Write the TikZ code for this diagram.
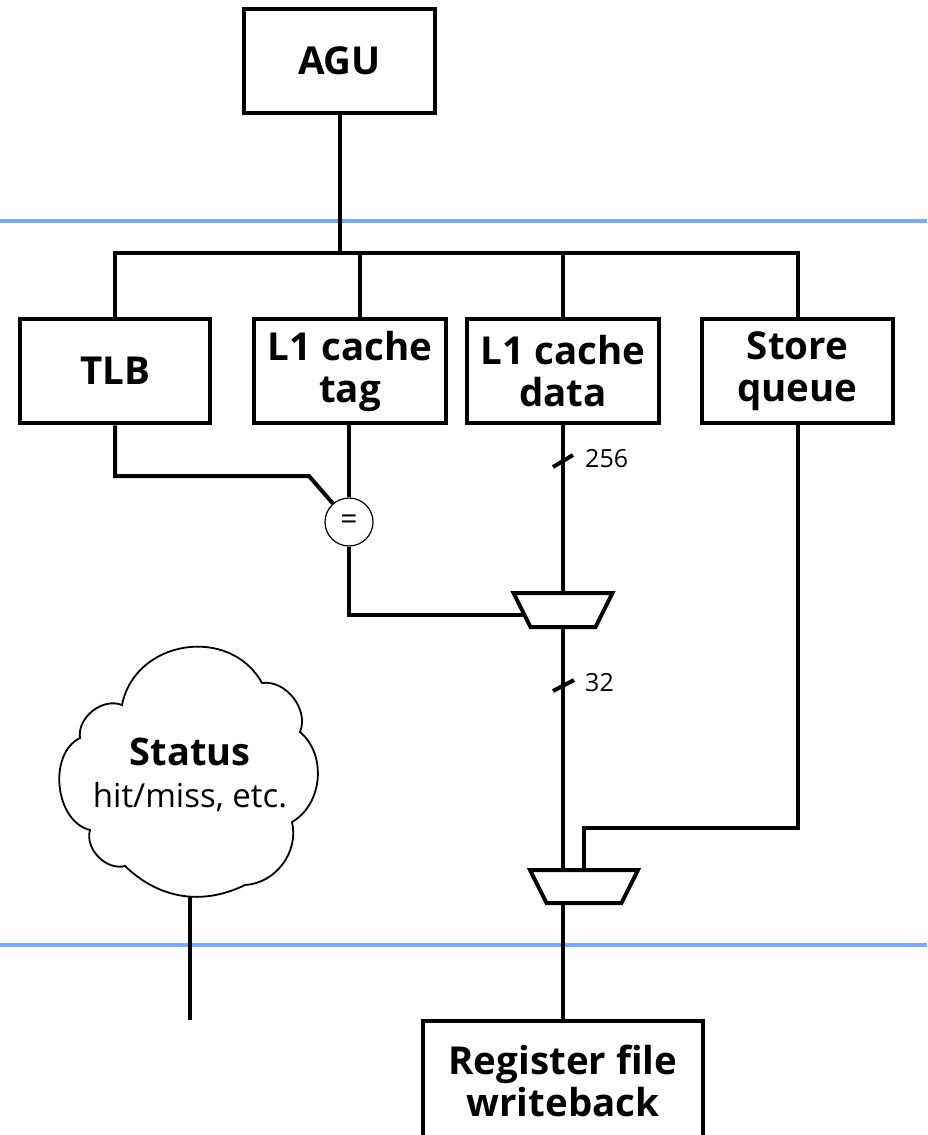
\documentclass[tikz,border=0pt]{standalone}
\usepackage{fontspec}
\setmainfont{Open Sans}
\usetikzlibrary{backgrounds,calc}
\definecolor{sepblue}{RGB}{120,168,255}
\begin{document}
\begin{tikzpicture}[x=1pt,y=-1pt,
  box/.style={draw, line width=4.5pt, fill=white, inner sep=0pt, align=center,
    minimum height=104pt, font=\fontsize{38.5}{42}\selectfont\bfseries},
  wire/.style={line width=4pt},
  sep/.style={draw=sepblue, line width=4pt},
  muxline/.style={draw, fill=white, line width=4pt, line join=miter},
  muxpt/.style={inner sep=0pt, minimum size=0pt},
  cmp/.style={circle, draw, line width=1.2pt, fill=white, minimum size=48pt,
    inner sep=0pt, font=\fontsize{30}{30}\selectfont},
  bus/.style={font=\fontsize{25}{25}\selectfont, anchor=base west, inner sep=0pt},
  cloudline/.style={draw, line width=1.8pt, fill=white}
]
\useasboundingbox (0,0) rectangle (927,1135);

% boxes
\node[box, minimum width=191pt] (agu) at (339.5,61) {AGU};
\node[box, minimum width=190pt] (tlb) at (115,371) {TLB};
\node[box, minimum width=192pt] (tag) at (350,371) {L1 cache\\tag};
\node[box, minimum width=192pt] (dat) at (563,371) {L1 cache\\data};
\node[box, minimum width=191pt] (sq) at (797.5,371) {Store\\queue};
\node[box, minimum width=280pt, minimum height=120pt] (rf) at (563,1081) {Register file\\writeback};

% comparator and muxes
\node[cmp] (eq) at (349,522) {=};
\node[muxpt] (m1) at (563,610) {};
\node[muxpt] (m2) at (584,886.5) {};
\draw[muxline] ($(m1)+(-49.5,-17)$) -- ($(m1)+(49.5,-17)$) -- ($(m1)+(32.5,17)$) -- ($(m1)+(-32.5,17)$) -- cycle;
\draw[muxline] ($(m2)+(-54,-16.5)$) -- ($(m2)+(54,-16.5)$) -- ($(m2)+(37.5,16.5)$) -- ($(m2)+(-37.5,16.5)$) -- cycle;

% width labels
\node[bus] (w256) at (585,467) {256};
\node[bus] (w32) at (585,691) {32};

% cloud
\draw[cloudline] (122,705) to[bend left=70, looseness=1.2] (262,683)
  to[bend left=60] (300,732) to[bend left=55] (292,822)
  to[bend left=50] (245,885) to[bend left=35] (125,866)
  to[bend left=60] (90,830) to[bend left=70] (80,738)
  to[bend left=60] (122,705) -- cycle;
\node[anchor=base, inner sep=0pt, font=\fontsize{38}{38}\selectfont\bfseries] (st) at (190,765) {Status};
\node[anchor=base, inner sep=0pt, font=\fontsize{33}{33}\selectfont] (hm) at (190,807) {hit/miss, etc.};
\coordinate (cb) at (190,893);
\coordinate (ce) at (190,1020);

\begin{pgfonlayer}{background}
  \draw[sep] (0,221) -- (927,221);
  \draw[sep] (0,945) -- (927,945);
  % distribution bus
  \draw[wire] (agu.south) -- (agu.south |- 0,253);
  \draw[wire] (tlb.north) |- (sq.north |- 0,253) -- (sq.north);
  \draw[wire] ($(tag.north)+(10,0)$) -- ++(0,-66);
  \draw[wire] (dat.north) -- ++(0,-66);
  % tag compare
  \draw[wire] (tlb.south) |- (309,476) -- (eq);
  \draw[wire] (eq.north |- tag.south) -- (eq.north);
  \draw[wire] (eq.south) |- ($(m1.center)+(0,5)$);
  % data path
  \draw[wire] (dat.south) -- (m1.center);
  \draw[wire] (m1.center) -- (m1.center |- m2.center);
  \draw[wire] (m1.center |- m2.center) -- (rf.north);
  \draw[wire] (sq.south) |- (m2.center |- 0,828) -- (m2.center);
  \draw[wire] (cb) -- (ce);
\end{pgfonlayer}
% bus width slashes
\draw[wire] (553,467) -- (573,455);
\draw[wire] (553,691) -- (574,680);
\end{tikzpicture}
\end{document}
